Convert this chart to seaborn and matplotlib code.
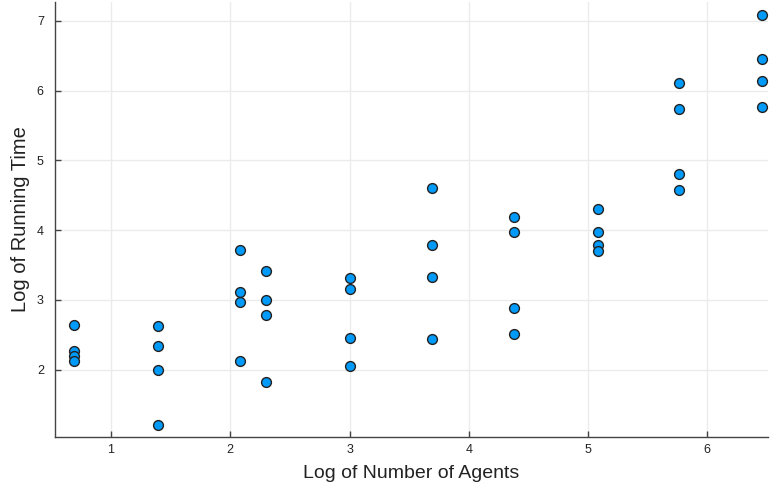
import numpy as np
import pandas as pd
import seaborn as sns
import matplotlib.pyplot as plt

# log of number of agents (2, 4, 8, 10, 20, 40, 80, 160, 320, 640)
log_agents = [0.69, 0.69, 0.69, 0.69,
              1.39, 1.39, 1.39, 1.39,
              2.08, 2.08, 2.08, 2.08,
              2.30, 2.30, 2.30, 2.30,
              3.00, 3.00, 3.00, 3.00,
              3.69, 3.69, 3.69, 3.69,
              4.38, 4.38, 4.38, 4.38,
              5.08, 5.08, 5.08, 5.08,
              5.76, 5.76, 5.76, 5.76,
              6.46, 6.46, 6.46, 6.46]
log_time = [2.64, 2.27, 2.20, 2.13,
            2.63, 2.34, 2.00, 1.21,
            3.71, 3.11, 2.97, 2.13,
            3.41, 3.00, 2.79, 1.83,
            3.31, 3.16, 2.46, 2.06,
            4.60, 3.79, 3.33, 2.44,
            4.19, 3.97, 2.89, 2.51,
            4.31, 3.97, 3.79, 3.70,
            6.11, 5.74, 4.81, 4.57,
            7.09, 6.46, 6.14, 5.76]

df = pd.DataFrame({'x': log_agents, 'y': log_time})

sns.set_style('white')
plt.rcParams['font.family'] = ['Liberation Sans', 'DejaVu Sans']

fig = plt.figure(figsize=(7.71, 4.93), dpi=100)
ax = fig.add_axes([0.0713, 0.114, 0.925, 0.882])

sns.scatterplot(data=df, x='x', y='y', ax=ax, color='#009AFA',
                edgecolor='#222222', linewidth=1.0, s=50, zorder=3)

ax.set_xlim(0.53, 6.51)
ax.set_ylim(1.04, 7.27)
ax.set_xticks([1, 2, 3, 4, 5, 6])
ax.set_yticks([2, 3, 4, 5, 6, 7])
ax.grid(True, color='#ebebeb', linewidth=1.0, zorder=0)
ax.set_axisbelow(True)

for side in ['top', 'right']:
    ax.spines[side].set_visible(False)
for side in ['left', 'bottom']:
    ax.spines[side].set_color('#444444')
    ax.spines[side].set_linewidth(1.0)

ax.tick_params(direction='in', length=4, width=1, color='#444444',
               labelsize=9, labelcolor='#222222', left=True, bottom=True)
ax.tick_params(axis='x', pad=5)
ax.tick_params(axis='y', pad=8)
ax.set_xlabel('Log of Number of Agents', fontsize=14, color='#222222', labelpad=7)
ax.set_ylabel('Log of Running Time', fontsize=14.5, color='#222222', labelpad=5)

plt.savefig('out.png', dpi=100)
